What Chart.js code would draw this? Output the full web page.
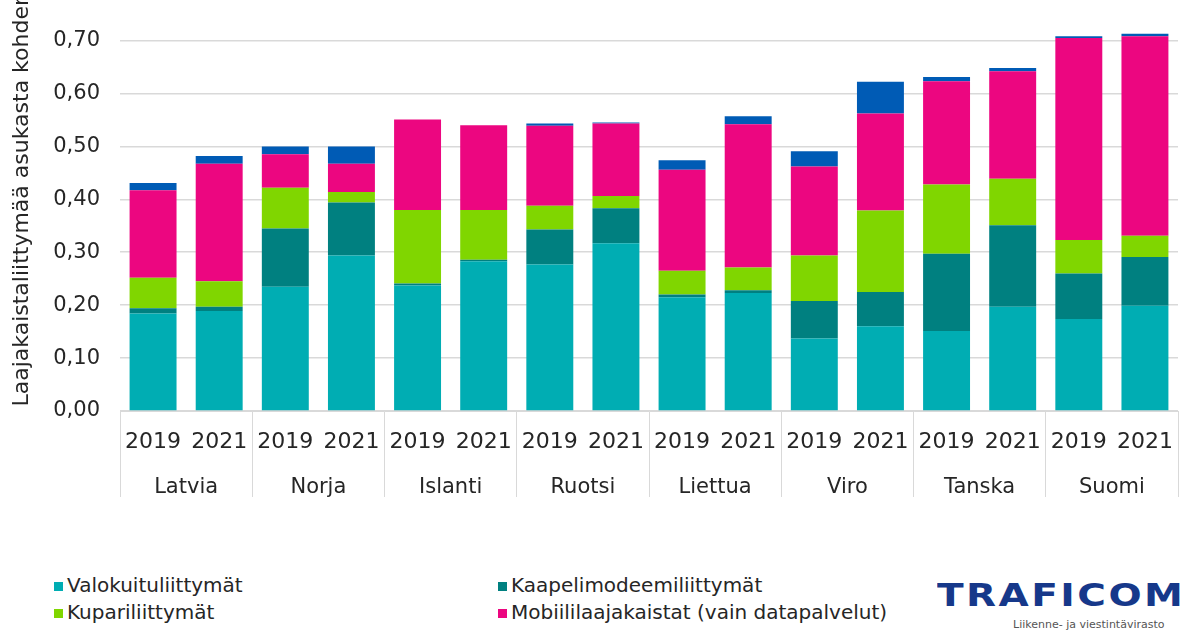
<!DOCTYPE html>
<html>
<head>
<meta charset="utf-8">
<script src="https://cdn.jsdelivr.net/npm/chart.js@4/dist/chart.umd.min.js"></script>
<style>
  html, body { margin: 0; padding: 0; background: #fff; }
  #wrap { position: relative; width: 1200px; height: 630px; overflow: hidden; font-family: 'DejaVu Sans', sans-serif; }
  #chart { position: absolute; left: 0; top: -45px; }
  .leg { position: absolute; font-size: 20px; color: #262626; line-height: 24px; white-space: nowrap; }
  .leg i { display: inline-block; width: 9px; height: 9px; margin-right: 4px; vertical-align: 1px; }
  #logo { position: absolute; left: 937px; top: 579px; font: bold 32px/1 'DejaVu Sans', sans-serif; color: #16388a; letter-spacing: 2px; transform: scaleX(1.22); transform-origin: left top; }
  #logosub { position: absolute; left: 1013px; top: 618px; font: 11px 'DejaVu Sans', sans-serif; color: #555; }
</style>
</head>
<body>
<div id="wrap">
  <canvas id="chart" width="1200" height="555"></canvas>
  <div id="legend"></div>
  <div id="logo">TRAFICOM</div>
  <div id="logosub">Liikenne- ja viestintävirasto</div>
</div>
<script>
// maat ja vuodet (x-akseli)
const maat = ['Latvia', 'Norja', 'Islanti', 'Ruotsi', 'Liettua', 'Viro', 'Tanska', 'Suomi'];
const vuodet = ['2019', '2021'];

// liittymät / asukas, järjestys: maa 2019, maa 2021, ...
const valokuitu = [0.184, 0.189, 0.235, 0.294, 0.237, 0.283, 0.277, 0.317, 0.215, 0.223, 0.137, 0.160, 0.151, 0.197, 0.174, 0.199];
const kaapeli   = [0.010, 0.008, 0.110, 0.100, 0.004, 0.003, 0.066, 0.066, 0.005, 0.005, 0.071, 0.065, 0.146, 0.154, 0.086, 0.092];
const kupari    = [0.058, 0.048, 0.077, 0.020, 0.139, 0.094, 0.045, 0.023, 0.045, 0.043, 0.086, 0.154, 0.131, 0.088, 0.063, 0.040];
const mobiili   = [0.165, 0.222, 0.063, 0.053, 0.171, 0.160, 0.151, 0.137, 0.191, 0.271, 0.168, 0.183, 0.195, 0.203, 0.382, 0.377];
const muut      = [0.014, 0.015, 0.015, 0.033, 0.000, 0.000, 0.004, 0.002, 0.018, 0.015, 0.029, 0.060, 0.008, 0.006, 0.003, 0.005];

const sarjat = [
  { label: 'Valokuituliittymät', data: valokuitu, color: '#00adb3' },
  { label: 'Kaapelimodeemiliittymät', data: kaapeli, color: '#008080' },
  { label: 'Kupariliittymät', data: kupari, color: '#80d600' },
  { label: 'Mobiililaajakaistat (vain datapalvelut)', data: mobiili, color: '#ec0680' },
  { label: 'Muut liittymät', data: muut, color: '#005bb5' }
];

Chart.defaults.font.family = "'DejaVu Sans', sans-serif";
Chart.defaults.color = '#262626';

const gridColor = '#d9d9d9';

new Chart(document.getElementById('chart'), {
  type: 'bar',
  data: {
    labels: maat.flatMap(() => vuodet),
    datasets: sarjat.map(s => ({
      label: s.label,
      data: s.data,
      backgroundColor: s.color,
      borderWidth: 0,
      barPercentage: 0.71,
      categoryPercentage: 1
    }))
  },
  options: {
    responsive: false,
    animation: false,
    layout: { padding: { top: 17, right: 22, bottom: 13, left: 0 } },
    plugins: { legend: { display: false }, tooltip: { enabled: false } },
    scales: {
      x: {
        stacked: true,
        offset: true,
        grid: {
          offset: true,
          drawOnChartArea: false,
          tickLength: 41,
          color: c => (c.index === undefined || c.index % 2 === 0) ? gridColor : 'rgba(0,0,0,0)'
        },
        border: { display: true, color: gridColor, width: 1 },
        ticks: { font: { size: 22 }, padding: -23, maxRotation: 0, autoSkip: false },
        afterFit: s => { s.height = 41; }
      },
      x2: {
        type: 'category',
        position: 'bottom',
        labels: maat,
        offset: true,
        grid: { offset: true, drawOnChartArea: false, tickLength: 45, color: gridColor },
        border: { display: false },
        ticks: { font: { size: 21 }, padding: -22, maxRotation: 0, autoSkip: false },
        afterFit: s => { s.height = 45; }
      },
      y: {
        stacked: true,
        min: 0,
        max: 0.8,
        grid: { color: gridColor, lineWidth: 1.5, drawTicks: false },
        border: { display: false },
        ticks: {
          stepSize: 0.1,
          padding: 20,
          font: { size: 21 },
          callback: v => v.toFixed(2).replace('.', ',')
        },
        title: {
          display: true,
          text: 'Laajakaistaliittymää asukasta kohden',
          font: { size: 22 },
          padding: { top: 9, bottom: 0 }
        },
        afterFit: s => { s.width = 120; }
      }
    }
  }
});

// selite kahteen sarakkeeseen
const paikat = [[54, 573], [498, 573], [54, 600], [498, 600], [54, 627]];
const legend = document.getElementById('legend');
sarjat.forEach((s, i) => {
  const d = document.createElement('div');
  d.className = 'leg';
  d.style.left = paikat[i][0] + 'px';
  d.style.top = paikat[i][1] + 'px';
  d.innerHTML = '<i style="background:' + s.color + '"></i>' + s.label;
  legend.appendChild(d);
});
</script>
</body>
</html>
